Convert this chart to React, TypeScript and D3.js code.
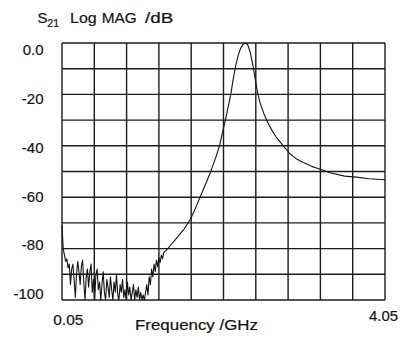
import React from "react";
import * as d3 from "d3";

// Low band: noise floor of the S21 sweep (GHz, dB)
const lowBandFreq: number[] = [
  0.05, 0.058, 0.065, 0.08, 0.095, 0.11, 0.125, 0.14, 0.155, 0.17, 0.185, 0.2, 0.215,
  0.23, 0.245, 0.26, 0.275, 0.29, 0.305, 0.32, 0.335, 0.35, 0.365, 0.38, 0.395, 0.41,
  0.425, 0.44, 0.455, 0.47, 0.485, 0.5, 0.515, 0.53, 0.545, 0.56, 0.575, 0.59, 0.605,
  0.62, 0.635, 0.65, 0.665, 0.68, 0.695, 0.71, 0.725, 0.74, 0.755, 0.77, 0.785, 0.8,
  0.815, 0.83, 0.845, 0.86, 0.875, 0.89, 0.905, 0.92, 0.935, 0.95, 0.965, 0.98, 0.995,
  1.01, 1.025, 1.04, 1.055, 1.07, 1.085, 1.1, 1.115, 1.13, 1.145, 1.16, 1.175, 1.19,
  1.205, 1.22, 1.235, 1.25, 1.265, 1.28, 1.295, 1.31, 1.33,
];
const lowBandDb: number[] = [
  -71, -76, -80, -82.5, -85, -84, -87.5, -86, -94, -88, -86, -92, -99,
  -90, -85, -89, -94, -87, -84.5, -93, -100, -91, -88, -95, -89, -86,
  -97, -92, -100, -90, -88, -96, -93, -100, -94, -89, -97, -100, -92,
  -95, -99, -91, -96, -100, -93, -97, -90, -98, -100, -94, -97, -92,
  -99, -96, -100, -93, -98, -95, -100, -97, -94, -100, -96, -99, -95,
  -100, -97, -100, -98, -100, -97, -94, -98, -91, -94, -88, -91, -86,
  -89, -84.5, -87, -83.5, -85.5, -82.5, -84, -81.5, -81,
];

// Resonance and upper band (GHz, dB)
const resonanceFreq: number[] = [
  1.36, 1.4, 1.44, 1.48, 1.52, 1.56, 1.6, 1.64, 1.68, 1.72, 1.76, 1.8, 1.84, 1.88,
  1.92, 1.96, 2.0, 2.04, 2.08, 2.11, 2.14, 2.17, 2.2, 2.23, 2.26, 2.29, 2.32, 2.35,
  2.38, 2.41, 2.44, 2.47, 2.5, 2.55, 2.6, 2.65, 2.7, 2.79, 2.87, 2.95, 3.04, 3.14,
  3.24, 3.37, 3.55, 3.7, 3.85, 4.05,
];
const resonanceDb: number[] = [
  -80, -78.5, -77, -75.5, -74, -72.5, -70.5, -68.5, -66, -63, -60, -57, -54, -51,
  -47.5, -44, -40, -34.5, -29, -24.5, -20, -14, -9, -5, -2.2, -0.6, 0, -0.7,
  -3.5, -8, -13.5, -19, -23, -27.5, -31, -34, -36.5, -40, -43, -45, -46.5, -48,
  -49, -50.5, -51.8, -52.2, -52.8, -53.2,
];

const yTickValues: number[] = [0, -20, -40, -60, -80, -100];
const yTickLabels: string[] = ["0.0", "-20", "-40", "-60", "-80", "-100"];
const xStartLabel = "0.05";
const xEndLabel = "4.05";
const xAxisTitle = "Frequency /GHz";

const W = 402;
const H = 340;
const plot = { left: 62, top: 43, right: 385, bottom: 300 };
const font = "'Liberation Sans', Arial, Helvetica, sans-serif";
const ink = "#141414";

export default function App() {
  const x = d3.scaleLinear().domain([0.05, 4.05]).range([plot.left, plot.right]);
  const y = d3.scaleLinear().domain([-100, 0]).range([plot.bottom, plot.top]);
  // tick labels sit slightly inside the outer grid lines
  const yLabel = d3.scaleLinear().domain([-100, 0]).range([294, 50]);

  const xGrid = d3.range(11).map((i) => 0.05 + i * 0.4);
  const yGrid = d3.range(11).map((i) => -i * 10);

  const pts: [number, number][] = [
    ...lowBandFreq.map((f, i) => [f, lowBandDb[i]] as [number, number]),
    ...resonanceFreq.map((f, i) => [f, resonanceDb[i]] as [number, number]),
  ];
  const line = d3
    .line<[number, number]>()
    .x((d) => x(d[0]))
    .y((d) => y(d[1]));

  const textProps = { fill: ink, stroke: ink, strokeWidth: 0.2 };

  return (
    <svg
      width={W}
      height={H}
      style={{ position: "absolute", left: 0, top: 0, background: "#fff" }}
      fontFamily={font}
    >
      <rect width={W} height={H} fill="#fff" />
      {/* title */}
      <g fontSize={15} {...textProps}>
        <text x={37.5} y={23.3}>S</text>
        <text x={47.3} y={27} fontSize={10.5}>21</text>
        <text x={70} y={23.3} textLength={26.7} lengthAdjust="spacingAndGlyphs">Log</text>
        <text x={101.7} y={23.3} textLength={35} lengthAdjust="spacingAndGlyphs">MAG</text>
        <text x={145} y={23.3} textLength={28.3} lengthAdjust="spacingAndGlyphs">/dB</text>
      </g>

      {/* grid */}
      <g stroke="#1c1c1c" strokeWidth={1.4}>
        {xGrid.map((g, i) => (
          <line key={"vx" + i} x1={x(g)} x2={x(g)} y1={plot.top} y2={plot.bottom} />
        ))}
        {yGrid.map((g, i) => (
          <line key={"hy" + i} x1={plot.left} x2={plot.right} y1={y(g)} y2={y(g)} />
        ))}
      </g>

      {/* trace */}
      <path d={line(pts) ?? ""} fill="none" stroke={ink} strokeWidth={1.1} strokeLinejoin="round" />

      {/* y tick labels */}
      {yTickValues.map((v, i) => (
        <text
          key={"yl" + i}
          x={43.5}
          y={yLabel(v)}
          dy="0.35em"
          textAnchor="end"
          fontSize={15}
          {...textProps}
        >
          {yTickLabels[i]}
        </text>
      ))}

      {/* x labels */}
      <text x={53.3} y={325} fontSize={14.5} textLength={30} lengthAdjust="spacingAndGlyphs" {...textProps}>
        {xStartLabel}
      </text>
      <text x={369} y={320.5} fontSize={14.5} textLength={29} lengthAdjust="spacingAndGlyphs" {...textProps}>
        {xEndLabel}
      </text>
      <text x={135} y={330.3} fontSize={14} textLength={123} lengthAdjust="spacingAndGlyphs" {...textProps}>
        {xAxisTitle}
      </text>
    </svg>
  );
}
